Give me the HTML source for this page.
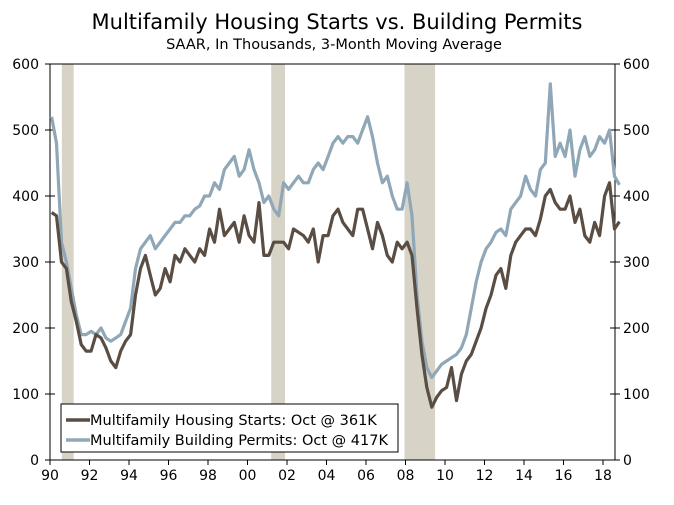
<!DOCTYPE html>
<html><head><meta charset="utf-8"><style>
body{margin:0;background:#fff;width:674px;height:501px;overflow:hidden;font-family:"DejaVu Sans","Liberation Sans",sans-serif}
svg text{font-family:"DejaVu Sans","Liberation Sans",sans-serif;fill:#000}
</style></head><body>
<svg id="c" width="674" height="501">
<text x="337" y="29" text-anchor="middle" font-size="21">Multifamily Housing Starts vs. Building Permits</text>
<text x="334" y="49" text-anchor="middle" font-size="14.5">SAAR, In Thousands, 3-Month Moving Average</text>
<g id="rec"></g><g id="axes"></g><g id="lines"></g>
<g>
<rect x="61" y="404" width="337" height="48" fill="#fff" stroke="#000" stroke-width="1"/>
<line x1="66" y1="420" x2="90" y2="420" stroke="#5a4d43" stroke-width="3.5"/>
<text x="90" y="425" font-size="14.5">Multifamily Housing Starts: Oct @ 361K</text>
<line x1="66" y1="440" x2="90" y2="440" stroke="#8fa7b6" stroke-width="3.5"/>
<text x="90" y="445" font-size="14.5">Multifamily Building Permits: Oct @ 417K</text>
</g>
</svg>
<script>
const yTicks=[0,100,200,300,400,500,600];
const xTickLabels=["90","92","94","96","98","00","02","04","06","08","10","12","14","16","18"];
const recessions=[[1990.6,1991.2],[2001.2,2001.9],[2007.95,2009.5]];
const starts=[375,370,300,290,240,210,175,165,165,190,185,170,150,140,165,180,190,250,290,310,280,250,260,290,270,310,300,320,310,300,320,310,350,330,380,340,350,360,330,370,340,330,390,310,310,330,330,330,320,350,345,340,330,350,300,340,340,370,380,360,350,340,380,380,350,320,360,340,310,300,330,320,330,310,230,160,110,80,95,105,110,140,90,130,150,160,180,200,230,250,280,290,260,310,330,340,350,350,340,365,400,410,390,380,380,400,360,380,340,330,360,340,400,420,350,361];
const permits=[520,480,330,300,260,220,190,190,195,190,200,185,180,185,190,210,230,290,320,330,340,320,330,340,350,360,360,370,370,380,385,400,400,420,410,440,450,460,430,440,470,440,420,390,400,380,370,420,410,420,430,420,420,440,450,440,460,480,490,480,490,490,480,500,520,490,450,420,430,400,380,380,420,370,250,180,140,125,135,145,150,155,160,170,190,230,270,300,320,330,345,350,340,380,390,400,430,410,400,440,450,570,460,480,460,500,430,470,490,460,470,490,480,500,430,417];
const x0=50,x1=615,yTop=64,yBot=460;
const xs=t=>x0+(t-1990)*19.75;
const ys=v=>yBot-v/600*(yBot-yTop);
const NS="http://www.w3.org/2000/svg";
function mk(tag,attrs,parent){const e=document.createElementNS(NS,tag);for(const k in attrs)e.setAttribute(k,attrs[k]);parent.appendChild(e);return e;}
const rec=document.getElementById('rec'),ax=document.getElementById('axes'),ln=document.getElementById('lines');
recessions.forEach(r=>{const e=mk('rect',{x:xs(r[0]),y:yTop,width:xs(r[1])-xs(r[0]),height:yBot-yTop,fill:'#d7d3c7'},rec);

});
mk('line',{x1:x0,y1:yTop,x2:x1,y2:yTop,stroke:'#000'},ax);
mk('line',{x1:x0,y1:yTop,x2:x0,y2:yBot,stroke:'#000'},ax);
mk('line',{x1:x1,y1:yTop,x2:x1,y2:yBot,stroke:'#000'},ax);
mk('line',{x1:x0,y1:yBot,x2:x1,y2:yBot,stroke:'#000'},ax);
yTicks.forEach(v=>{const y=ys(v);
mk('line',{x1:x0-5,y1:y,x2:x0+5,y2:y,stroke:'#000'},ax);
mk('line',{x1:x1-5,y1:y,x2:x1+5,y2:y,stroke:'#000'},ax);
const a=mk('text',{x:x0-11,y:y+5,'text-anchor':'end','font-size':14},ax);a.textContent=v;


const b=mk('text',{x:x1+8,y:y+5,'font-size':14},ax);b.textContent=v;

});
xTickLabels.forEach((l,i)=>{const x=xs(1990+2*i);
mk('line',{x1:x,y1:yBot,x2:x,y2:yBot+5,stroke:'#000'},ax);
const t=mk('text',{x:x,y:yBot+20,'text-anchor':'middle','font-size':14},ax);t.textContent=l;

});
function path(arr,color,name){const d=arr.map((v,i)=>(i?'L':'M')+xs(1990+i/4+0.08).toFixed(1)+' '+ys(v).toFixed(1)).join(' ');
const p=mk('path',{d:d,fill:'none',stroke:color,'stroke-width':3.2,'stroke-linejoin':'round'},ln);

}
path(permits,'#8fa7b6','permits-line');
path(starts,'#5a4d43','starts-line');
</script>
</body></html>
